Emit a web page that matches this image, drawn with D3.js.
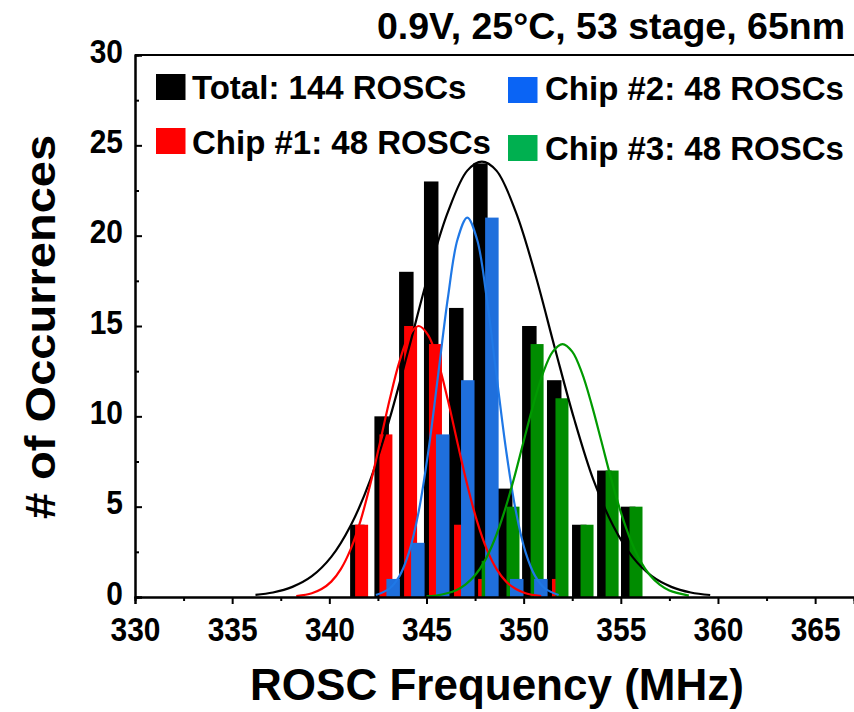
<!DOCTYPE html>
<html>
<head>
<meta charset="utf-8">
<script src="https://cdn.jsdelivr.net/npm/d3@7"></script>
<style>
  body { margin: 0; background: #fff; }
  svg text { font-family: "Liberation Sans", Arial, sans-serif; font-weight: bold; fill: #000; }
</style>
</head>
<body>
<svg id="chart" width="854" height="712"></svg>
<script>
// histogram bins (left edge of each bin group, MHz)
var binStart = [341.07, 342.32, 343.59, 344.87, 346.16, 347.40, 348.68, 349.92, 351.20, 352.49, 353.78, 355.01];
var totalCounts = [4, 10, 18, 23, 16, 24, 6, 15, 12, 4, 7, 5];
var chip1Counts = [4, 9, 15, 14, 4, 1, 0, 0, 1, 0, 0, 0];
var chip2Counts = [0, 1, 3, 9, 12, 21, 1, 1, 0, 0, 0, 0];
var chip3Counts = [0, 0, 0, 0, 0, 2, 5, 14, 11, 4, 7, 5];

// gaussian fit curves [MHz, count]
var totalFit = [[336.2, 0.12], [337.1, 0.25], [338.1, 0.56], [339.1, 1.15], [340.1, 2.22], [341.1, 3.96],
  [342.1, 6.45], [343.1, 9.85], [344.1, 13.8], [345.1, 17.85], [346.1, 21.3], [347.1, 23.6], [347.85, 24.1],
  [348.6, 23.6], [349.6, 21.3], [350.6, 17.85], [351.6, 13.8], [352.6, 9.85], [353.6, 6.45], [354.6, 3.96],
  [355.6, 2.22], [356.6, 1.15], [357.6, 0.56], [358.6, 0.25], [359.6, 0.11]];
var chip1Fit = [[338.3, 0.05], [339.1, 0.21], [339.6, 0.44], [340.1, 0.85], [340.6, 1.56], [341.1, 2.65],
  [341.6, 4.2], [342.1, 6.2], [342.6, 8.51], [343.1, 10.9], [343.6, 13.0], [344.1, 14.47], [344.6, 15.0],
  [345.1, 14.47], [345.6, 13.0], [346.1, 10.9], [346.6, 8.51], [347.1, 6.2], [347.6, 4.2], [348.1, 2.65],
  [348.6, 1.56], [349.1, 0.85], [349.6, 0.44], [350.1, 0.21], [350.9, 0.05]];
var chip2Fit = [[342.4, 0.11], [343.1, 0.47], [343.6, 1.14], [344.1, 2.47], [344.6, 4.74], [345.1, 8.1],
  [345.6, 12.3], [346.1, 16.55], [346.6, 19.8], [347.1, 21.0], [347.6, 19.8], [348.1, 16.55], [348.6, 12.3],
  [349.1, 8.1], [349.6, 4.74], [350.1, 2.47], [350.6, 1.14], [351.1, 0.47], [351.8, 0.11]];
var chip3Fit = [[345.0, 0.04], [345.5, 0.08], [346.5, 0.36], [347.0, 0.68], [347.5, 1.2], [348.0, 2.0],
  [348.5, 3.17], [349.0, 4.7], [349.5, 6.55], [350.0, 8.62], [350.5, 10.65], [351.0, 12.4], [351.5, 13.58],
  [352.0, 14.0], [352.5, 13.58], [353.0, 12.4], [353.5, 10.65], [354.0, 8.62], [354.5, 6.55], [355.0, 4.7],
  [355.5, 3.17], [356.0, 2.0], [356.5, 1.2], [357.0, 0.68], [357.5, 0.36], [358.5, 0.08]];

var xTicks = [330, 335, 340, 345, 350, 355, 360, 365];
var yTicks = [0, 5, 10, 15, 20, 25, 30];

var titleText = "0.9V, 25°C, 53 stage, 65nm";
var xLabel = "ROSC Frequency (MHz)";
var yLabel = "# of Occurrences";
var legendItems = [
  {name: "Total: 144 ROSCs", color: "#000000", sx: 156, sy: 74, tx: 192, ty: 99},
  {name: "Chip #2: 48 ROSCs", color: "#0a64f5", sx: 508, sy: 77, tx: 545, ty: 100},
  {name: "Chip #1: 48 ROSCs", color: "#ff0000", sx: 156, sy: 128, tx: 192, ty: 154},
  {name: "Chip #3: 48 ROSCs", color: "#00b050", sx: 508, sy: 135, tx: 545, ty: 160}
];

var svg = d3.select('#chart');

var x = d3.scaleLinear().domain([330, 367]).range([135, 854]);
var y = d3.scaleLinear().domain([0, 30]).range([597, 55]);

// bar series drawn back to front, offset in px from bin edge
var series = [
  {counts: totalCounts, color: '#000000', dx: 0, w: 14.5},
  {counts: chip1Counts, color: '#ff0000', dx: 5, w: 13},
  {counts: chip3Counts, color: '#008c00', dx: 8.5, w: 13},
  {counts: chip2Counts, color: '#1f6fdc', dx: 12, w: 13.5}
];

series.forEach(function(s) {
  svg.append('g')
    .selectAll('rect')
    .data(s.counts.map(function(c, i) { return {x0: binStart[i], c: c}; }).filter(function(d) { return d.c > 0; }))
    .enter()
    .append('rect')
      .attr('x', function(d) { return x(d.x0) + s.dx; })
      .attr('y', function(d) { return y(d.c); })
      .attr('width', s.w)
      .attr('height', function(d) { return y(0) - y(d.c); })
      .attr('fill', s.color);
});

var line = d3.line()
  .x(function(d) { return x(d[0]); })
  .y(function(d) { return y(d[1]); })
  .curve(d3.curveCatmullRom.alpha(0.5));

[
  {pts: totalFit, color: '#000000'},
  {pts: chip1Fit, color: '#ff0000'},
  {pts: chip2Fit, color: '#1f78e6'},
  {pts: chip3Fit, color: '#009a00'}
].forEach(function(f) {
  svg.append('path')
    .attr('d', line(f.pts))
    .attr('fill', 'none')
    .attr('stroke', f.color)
    .attr('stroke-width', 2.2);
});

// axes
var xAxis = svg.append('g').attr('transform', 'translate(0,' + y(0) + ')')
  .call(d3.axisBottom(x).tickValues(xTicks).tickSize(7).tickFormat(d3.format('d')));
svg.append('g').attr('transform', 'translate(0,' + y(0) + ')')
  .call(d3.axisBottom(x).tickValues(d3.range(332.5, 367, 5)).tickSize(4).tickFormat(''));

var yAxis = svg.append('g').attr('transform', 'translate(' + x(330) + ',0)')
  .call(d3.axisLeft(y).tickValues(yTicks).tickSize(-7).tickFormat(d3.format('d')));
svg.append('g').attr('transform', 'translate(' + x(330) + ',0)')
  .call(d3.axisLeft(y).tickValues(d3.range(2.5, 30, 5)).tickSize(-4).tickFormat(''));

// top frame
svg.append('line')
  .attr('x1', x(330)).attr('x2', 854)
  .attr('y1', y(30)).attr('y2', y(30))
  .attr('stroke', '#000').attr('stroke-width', 2);

svg.selectAll('.domain').attr('stroke', '#000').attr('stroke-width', 2);
svg.selectAll('.tick line').attr('stroke', '#000').attr('stroke-width', 2);

// tick labels: slightly condensed, tall digits
var sx = 0.88;
svg.selectAll('.tick text').style('font-size', '34px');
xAxis.selectAll('.tick text')
  .attr('y', 0).attr('dy', 0)
  .attr('transform', 'translate(0,44) scale(' + sx + ',1)');
yAxis.selectAll('.tick text')
  .attr('x', 0).attr('dy', '0.3em')
  .attr('transform', 'translate(-12,-3) scale(' + sx + ',1)');

// labels
svg.append('text')
  .attr('x', 845).attr('y', 39)
  .attr('text-anchor', 'end')
  .style('font-size', '37.5px')
  .text(titleText);

svg.append('text')
  .attr('x', 497).attr('y', 700)
  .attr('text-anchor', 'middle')
  .style('font-size', '44px')
  .text(xLabel);

svg.append('text')
  .attr('transform', 'translate(55,327) scale(1,1.12) rotate(-90)')
  .attr('text-anchor', 'middle')
  .style('font-size', '42px')
  .text(yLabel);

// legend
var leg = svg.append('g').selectAll('g').data(legendItems).enter().append('g');
leg.append('rect')
  .attr('x', function(d) { return d.sx; })
  .attr('y', function(d) { return d.sy; })
  .attr('width', 29.5).attr('height', 26)
  .attr('fill', function(d) { return d.color; });
leg.append('text')
  .attr('x', function(d) { return d.tx; })
  .attr('y', function(d) { return d.ty; })
  .style('font-size', '33px')
  .text(function(d) { return d.name; });
</script>
</body>
</html>
